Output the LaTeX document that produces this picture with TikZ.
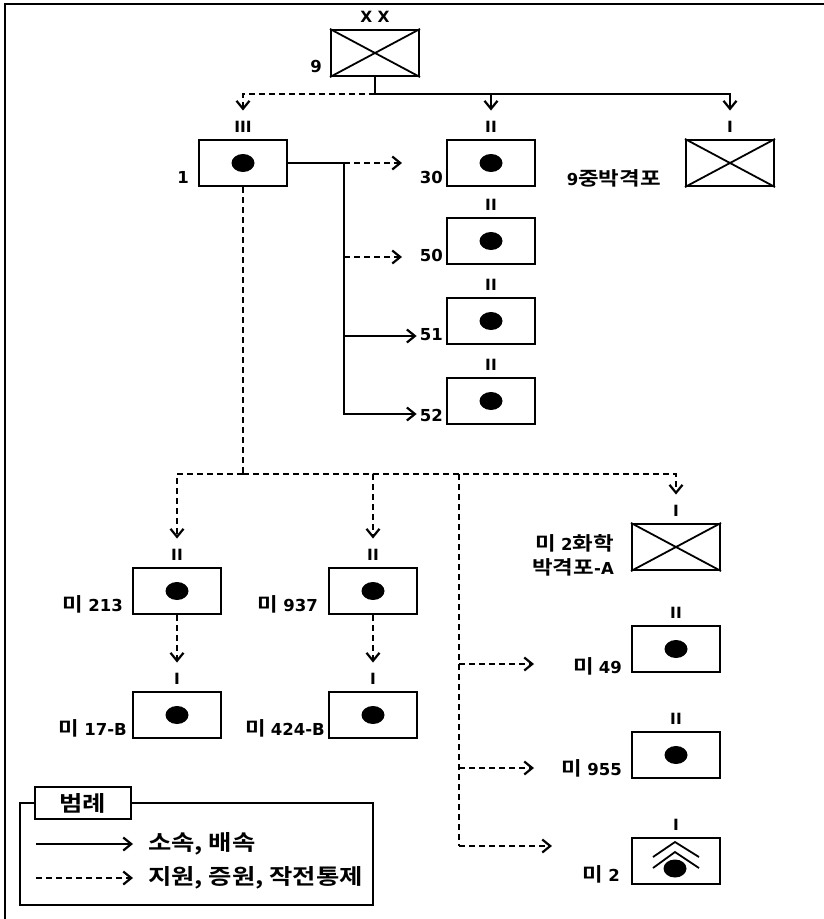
\documentclass[tikz,border=0pt]{standalone}
\usepackage{fontspec}
\setmainfont{Noto Sans CJK KR}[BoldFont={Noto Sans CJK KR Bold},FakeStretch=1.18]
\newfontfamily\latfont{DejaVu Sans}[BoldFont={DejaVu Sans Bold}]
\usetikzlibrary{arrows.meta,positioning}
\tikzset{
  unitbox/.style={draw,line width=2.1pt,minimum width=88pt,minimum height=46pt,inner sep=0pt},
  labeltxt/.style={font=\bfseries\fontsize{19}{24}\selectfont,inner sep=0pt},
  legendtxt/.style={font=\bfseries\fontsize{21.5}{24}\selectfont,inner sep=0pt},
  echelon/.style={font=\latfont\bfseries\fontsize{15.5}{16}\selectfont,inner sep=0pt,text height=11pt,text depth=0pt},
  solidarr/.style={line width=2.2pt,-{Straight Barb[length=8pt,width=13pt]}},
  dasharr/.style={line width=2.2pt,dash pattern=on 6pt off 4pt,-{Straight Barb[length=8pt,width=13pt]}},
  solidln/.style={line width=2.2pt},
  dashln/.style={line width=2.2pt,dash pattern=on 6pt off 4pt}
}
\newcommand{\lat}[1]{{\latfont\bfseries\fontsize{16.5}{24}\selectfont #1}}
\newcommand{\dotunit}[3]{%
  \node[unitbox] (#1) at (#2) {};
  \fill (#1.center) ellipse (11.5pt and 9pt);
  \node[echelon,above=6pt of #1] (#1e) {#3};
}
\newcommand{\crossunit}[3]{%
  \node[unitbox] (#1) at (#2) {};
  \draw[line width=1.8pt] (#1.north west) -- (#1.south east) (#1.south west) -- (#1.north east);
  \node[echelon,above=6pt of #1] (#1e) {#3};
}
\begin{document}
\begin{tikzpicture}[x=1pt,y=-1pt]
\useasboundingbox (0,0) rectangle (824,919);
\draw[line width=1.6pt] (5,919) -- (5,4) -- (824,4);

% units
\crossunit{divn}{375,53}{X X}
\dotunit{regt}{243,163}{III}
\dotunit{bnA}{491,163}{II}
\crossunit{bnH}{730,163}{I}
\dotunit{bnB}{491,241}{II}
\dotunit{bnC}{491,321}{II}
\dotunit{bnD}{491,401}{II}
\dotunit{usA}{177,591}{II}
\dotunit{usB}{373,591}{II}
\dotunit{usC}{177,715}{I}
\dotunit{usD}{373,715}{I}
\crossunit{usE}{676,547}{I}
\dotunit{usF}{676,649}{II}
\dotunit{usG}{676,755}{II}
\node[unitbox] (usH) at (676,861) {};
\draw[line width=1.8pt] (653,857) -- (675,842) -- (699,857) (653,868) -- (675,852) -- (699,868);
\fill (675,868.5) ellipse (11.5pt and 9pt);
\node[echelon,above=6pt of usH] (usHe) {I};

% labels
\node[labeltxt,anchor=east] (lb9) at (322,66) {\lat{9}};
\node[labeltxt,anchor=east] (lb1) at (189,177) {\lat{1}};
\node[labeltxt,anchor=east] (lb30) at (443,177) {\lat{30}};
\node[labeltxt,anchor=east] (lb50) at (443,255) {\lat{50}};
\node[labeltxt,anchor=east] (lb51) at (443,335) {\lat{51}};
\node[labeltxt,anchor=east] (lb52) at (443,415) {\lat{52}};
\node[labeltxt,anchor=east] (lbH) at (661,178) {\lat{9}중박격포};
\node[labeltxt,anchor=east] (lbA) at (123,604) {미 \lat{213}};
\node[labeltxt,anchor=east] (lbB) at (318,604) {미 \lat{937}};
\node[labeltxt,anchor=east] (lbC) at (127,728) {미 \lat{17-B}};
\node[labeltxt,anchor=east] (lbD) at (325,728) {미 \lat{424-B}};
\node[labeltxt,anchor=east,align=right] (lbE) at (614,555) {미 \lat{2}화학\\박격포\lat{-A}};
\node[labeltxt,anchor=east] (lbF) at (622,666) {미 \lat{49}};
\node[labeltxt,anchor=east] (lbG) at (622,768) {미 \lat{955}};
\node[labeltxt,anchor=east] (lbK) at (620,874) {미 \lat{2}};

% connectors from the division
\coordinate (hub) at (375,94);
\draw[solidln] (divn.south) -- (hub);
\draw[solidarr,shorten >=11pt] (hub) -| (bnHe.north);
\draw[solidarr,shorten >=11pt] (hub) -| (bnAe.north);
\draw[dasharr,shorten >=11pt] (hub) -| (regte.north);

% connectors from the regiment
\coordinate (rsp) at (344,163);
\coordinate (rB) at (344,257);
\coordinate (rC) at (344,336);
\coordinate (rD) at (344,414);
\coordinate (tipA) at (402,163);
\coordinate (tipB) at (402,257);
\draw[solidln] (regt.east) -- (rsp);
\draw[solidarr,shorten >=3pt] (rsp) |- (lb52.west |- rD);
\draw[solidarr,shorten >=3pt] (rC) -- (lb51.west |- rC);
\draw[dasharr] (rsp) -- (tipA);
\draw[dasharr] (rB) -- (tipB);

% attached units
\coordinate (bus) at (243,474);
\coordinate (busV) at (459,474);
\coordinate (busF) at (459,664);
\coordinate (busG) at (459,768);
\coordinate (busH) at (459,846);
\coordinate (tipF) at (534,664);
\coordinate (tipG) at (534,768);
\coordinate (tipH) at (552,846);
\draw[dashln] (regt.south) -- (bus);
\draw[dasharr,shorten >=11pt] (bus) -| (usAe.north);
\draw[dasharr,shorten >=11pt] (bus) -| (usBe.north);
\draw[dasharr,shorten >=11pt] (bus) -| (usEe.north);
\draw[dasharr,shorten >=11pt] (usA.south) -- (usCe.north);
\draw[dasharr,shorten >=11pt] (usB.south) -- (usDe.north);
\draw[dashln] (busV) -- (busH);
\draw[dasharr] (busF) -- (tipF);
\draw[dasharr] (busG) -- (tipG);
\draw[dasharr] (busH) -- (tipH);

% legend
\draw[line width=1.8pt] (20,803) rectangle (373,905);
\node[draw,fill=white,line width=1.8pt,minimum width=96pt,minimum height=32pt,legendtxt] (lgT) at (83,803) {범례};
\node[legendtxt,anchor=west] (lg1) at (148,844) {소속, 배속};
\node[legendtxt,anchor=west] (lg2) at (148,878) {지원, 증원, 작전통제};
\coordinate (lgA) at (36,844);
\coordinate (lgB) at (36,878);
\coordinate (lgC) at (133,844);
\coordinate (lgD) at (133,878);
\draw[solidarr] (lgA) -- (lgC);
\draw[dasharr] (lgB) -- (lgD);
\end{tikzpicture}
\end{document}
